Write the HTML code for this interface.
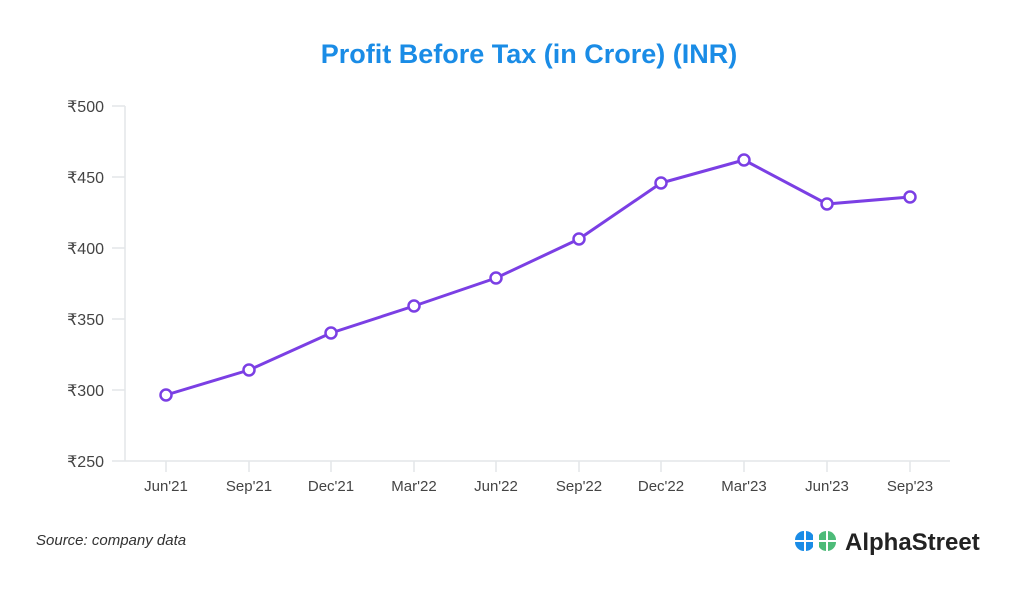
<!DOCTYPE html>
<html><head><meta charset="utf-8"><style>
body{margin:0;background:#fff;}
svg text{font-family:"Liberation Sans","DejaVu Sans",sans-serif;}
</style></head><body>
<svg width="1024" height="585" viewBox="0 0 1024 585" xmlns="http://www.w3.org/2000/svg">
<rect width="1024" height="585" fill="#fff"/>
<text x="529" y="63" text-anchor="middle" font-size="27" font-weight="bold" fill="#1a8ce6">Profit Before Tax (in Crore) (INR)</text>
<g stroke="#e3e6e8" stroke-width="1.5" fill="none">
<line x1="125" y1="106" x2="125" y2="461"/>
<line x1="125" y1="461" x2="950" y2="461"/>
<line x1="112" y1="106" x2="125" y2="106"/>
<line x1="112" y1="177" x2="125" y2="177"/>
<line x1="112" y1="248" x2="125" y2="248"/>
<line x1="112" y1="319" x2="125" y2="319"/>
<line x1="112" y1="390" x2="125" y2="390"/>
<line x1="112" y1="461" x2="125" y2="461"/>
<line x1="166" y1="461" x2="166" y2="472"/><line x1="249" y1="461" x2="249" y2="472"/><line x1="331" y1="461" x2="331" y2="472"/><line x1="414" y1="461" x2="414" y2="472"/><line x1="496" y1="461" x2="496" y2="472"/><line x1="579" y1="461" x2="579" y2="472"/><line x1="661" y1="461" x2="661" y2="472"/><line x1="744" y1="461" x2="744" y2="472"/><line x1="827" y1="461" x2="827" y2="472"/><line x1="910" y1="461" x2="910" y2="472"/>
</g>
<g font-size="16" fill="#444" text-anchor="end">
<text x="104" y="112">₹500</text><text x="104" y="183">₹450</text><text x="104" y="254">₹400</text><text x="104" y="325">₹350</text><text x="104" y="396">₹300</text><text x="104" y="467">₹250</text>
</g>
<g font-size="15" fill="#444" text-anchor="middle">
<text x="166" y="491">Jun'21</text><text x="249" y="491">Sep'21</text><text x="331" y="491">Dec'21</text><text x="414" y="491">Mar'22</text><text x="496" y="491">Jun'22</text><text x="579" y="491">Sep'22</text><text x="661" y="491">Dec'22</text><text x="744" y="491">Mar'23</text><text x="827" y="491">Jun'23</text><text x="910" y="491">Sep'23</text>
</g>
<polyline fill="none" stroke="#7b3fe4" stroke-width="3" stroke-linejoin="round" points="166,395 249,370 331,333 414,306 496,278 579,239 661,183 744,160 827,204 910,197"/>
<g fill="#fff" stroke="#7b3fe4" stroke-width="2.5">
<circle cx="166" cy="395" r="5.5"/><circle cx="249" cy="370" r="5.5"/><circle cx="331" cy="333" r="5.5"/><circle cx="414" cy="306" r="5.5"/><circle cx="496" cy="278" r="5.5"/><circle cx="579" cy="239" r="5.5"/><circle cx="661" cy="183" r="5.5"/><circle cx="744" cy="160" r="5.5"/><circle cx="827" cy="204" r="5.5"/><circle cx="910" cy="197" r="5.5"/>
</g>
<text x="36" y="545" font-size="15" font-style="italic" fill="#333">Source: company data</text>
<g>
<path d="M795,540 a9,9 0 0 1 9,-9 v9 z" fill="#1a8ce6"/>
<path d="M795,542 h9 v9 a9,9 0 0 1 -9,-9 z" fill="#1a8ce6"/>
<path d="M806,531 a9,9 0 0 1 7,4 v5 h-7 z" fill="#1a8ce6"/>
<path d="M806,542 h7 v5 a9,9 0 0 1 -7,4 z" fill="#1a8ce6"/>
<path d="M819,535 a9,9 0 0 1 7,-4 v9 h-7 z" fill="#4dbb78"/>
<path d="M819,542 h7 v9 a9,9 0 0 1 -7,-4 z" fill="#4dbb78"/>
<path d="M828,531 a9,9 0 0 1 8,9 h-8 z" fill="#4dbb78"/>
<path d="M828,542 h8 a9,9 0 0 1 -8,9 z" fill="#4dbb78"/>
</g>
<text x="845" y="550" font-size="24" font-weight="bold" fill="#222">AlphaStreet</text>
</svg>
</body></html>
